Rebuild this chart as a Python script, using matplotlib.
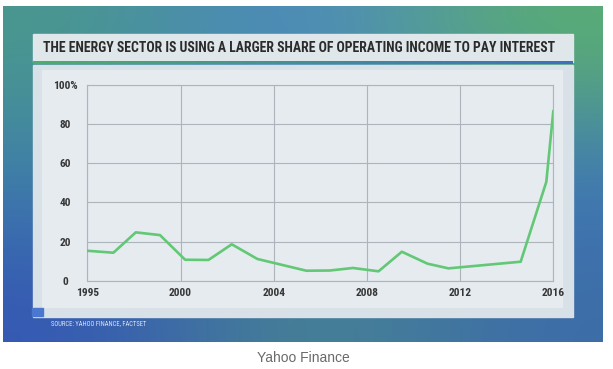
import numpy as np
import matplotlib
matplotlib.use("Agg")
import matplotlib.pyplot as plt
from matplotlib.patches import Rectangle

# data (years as placed on the chart's own axis)
years = [1995.0, 1996.4, 1997.6, 1998.9, 2000.2, 2001.2, 2002.2, 2003.3,
         2005.4, 2006.4, 2007.4, 2008.5, 2009.5, 2010.6, 2011.5,
         2014.6, 2015.7, 2016.0]
share = [15.3, 14.3, 24.7, 23.3, 10.7, 10.6, 18.6, 11.1,
         5.1, 5.2, 6.5, 4.8, 14.8, 8.7, 6.3,
         9.7, 50.5, 86.6]
tick_years = [1995, 2000, 2004, 2008, 2012, 2016]
tick_labels = ["1995", "2000", "2004", "2008", "2012", "2016"]
y_ticks = [0, 20, 40, 60, 80, 100]
y_labels = ["0", "20", "40", "60", "80", "100%"]

title = "THE ENERGY SECTOR IS USING A LARGER SHARE OF OPERATING INCOME TO PAY INTEREST"
source = "SOURCE: YAHOO FINANCE, FACTSET"
caption = "Yahoo Finance"

narrow = ["Roboto Condensed", "DejaVu Sans"]
stretch = "condensed"

W, H = 613, 369
fig = plt.figure(figsize=(W / 100, H / 100), dpi=100)
fig.patch.set_facecolor("white")

# background layer in pixel coords
bg = fig.add_axes([0, 0, 1, 1])
bg.axis("off")

# blue/green gradient photo backdrop
grid = np.array([
    [[0x4a, 0x98, 0x8c], [0x4c, 0x84, 0xcf], [0x5a, 0xae, 0x72]],
    [[0x3e, 0x80, 0xaa], [0x4a, 0x86, 0xa8], [0x3f, 0x78, 0xb8]],
    [[0x35, 0x57, 0xb5], [0x4a, 0x8a, 0x8c], [0x3d, 0x6c, 0xa8]],
]) / 255.0
bg.imshow(grid, extent=(3, 603, 342, 6), interpolation="bicubic", aspect="auto", zorder=0)

# title band
bg.add_patch(Rectangle((33, 34), 540, 28, color="#dfe7eb", zorder=1))
line = np.linspace(0, 1, 200)
green = np.array([0x4c, 0xaf, 0x6a]) / 255
blue = np.array([0x3d, 0x6f, 0xc0]) / 255
strip = (green[None, :] * (1 - line[:, None]) + blue[None, :] * line[:, None])[None, :, :]
bg.imshow(strip, extent=(33, 573, 64.5, 62), aspect="auto", zorder=2)

# chart panel
bg.add_patch(Rectangle((33, 64.5), 540, 252.5, color="#d8e1e7", zorder=1))
bg.add_patch(Rectangle((42, 70), 520, 237, color="#e5ebef", zorder=1))
bg.add_patch(Rectangle((32, 308), 11, 8, color="#4a78d0", zorder=1))
bg.set_xlim(0, W)
bg.set_ylim(H, 0)

t = bg.text(43, 48.5, title, family=narrow, fontstretch=stretch, fontweight="bold",
            fontsize=11, color="#2b2b2b", va="center", ha="left", zorder=3)
bg.text(50.7, 324, source, family=narrow, fontstretch=stretch, fontsize=4.8,
        color="#dbe3f2", va="center", ha="left", zorder=3)
bg.text(303, 358, caption, family=["Liberation Sans", "DejaVu Sans"], fontsize=10,
        color="#6a6a6a", va="center", ha="center")

# fit title width to the reference
fig.canvas.draw()
w = t.get_window_extent().width
t.set_fontsize(11 * 514 / w)

# chart axes
left, right, bottom, top = 87.3, 553.3, 280.7, 85.0
ax = fig.add_axes([left / W, 1 - bottom / H, (right - left) / W, (bottom - top) / H])
ax.patch.set_alpha(0)

tick_pos = np.arange(len(tick_years))
ax.set_xscale("function", functions=(
    lambda v: np.interp(v, tick_years, tick_pos),
    lambda p: np.interp(p, tick_pos, tick_years)))
ax.plot(years, share, color="#62c876", lw=1.9, solid_joinstyle="round", zorder=3)
ax.set_xlim(1995, 2016)
ax.set_ylim(0, 100)

ax.set_xticks(tick_years)
ax.set_xticklabels(tick_labels)
ax.set_yticks(y_ticks)
ax.set_yticklabels(y_labels)
ax.minorticks_off()
ax.grid(True, color="#adb4bb", lw=0.8)
for s in ax.spines.values():
    s.set_color("#adb4bb")
    s.set_linewidth(0.8)
ax.tick_params(length=0, labelsize=8.2, labelcolor="#363636")
ax.tick_params(axis="x", pad=5.2)
ax.tick_params(axis="y", pad=15.8)
for lbl in ax.get_yticklabels() + ax.get_xticklabels():
    lbl.set_family(narrow)
    lbl.set_fontstretch(stretch)
    lbl.set_fontweight("bold")
for lbl in ax.get_yticklabels():
    lbl.set_ha("center")

fig.savefig("out.png", dpi=100)
